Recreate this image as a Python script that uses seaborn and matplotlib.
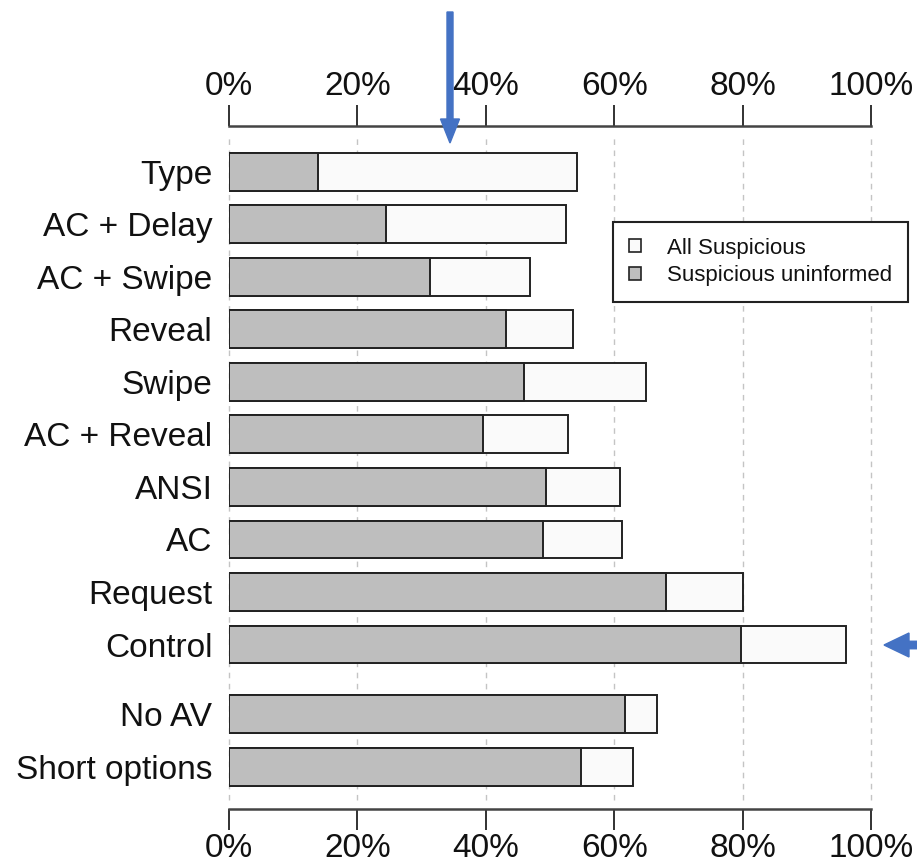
import pandas as pd
import seaborn as sns
import matplotlib.pyplot as plt
from matplotlib.patches import Patch, FancyArrow

# Conditions, top to bottom; last two sit after a small gap
conditions = ['Type', 'AC + Delay', 'AC + Swipe', 'Reveal', 'Swipe', 'AC + Reveal',
              'ANSI', 'AC', 'Request', 'Control', 'No AV', 'Short options']
positions = [0, 1, 2, 3, 4, 5, 6, 7, 8, 9, 10.33, 11.33]
all_suspicious = [54.2, 52.5, 46.9, 53.6, 65.0, 52.8, 60.9, 61.2, 80.1, 96.1, 66.7, 62.9]
suspicious_uninformed = [13.9, 24.5, 31.3, 43.1, 46.0, 39.6, 49.4, 48.9, 68.1, 79.8, 61.7, 54.8]
ticks = [0, 20, 40, 60, 80, 100]

df = pd.DataFrame({'condition': conditions, 'pos': positions,
                   'all': all_suspicious, 'uninformed': suspicious_uninformed})

sns.set_style('white')
plt.rcParams['font.family'] = ['Liberation Sans', 'DejaVu Sans']
plt.rcParams['text.color'] = '#111111'
plt.rcParams['xtick.labelcolor'] = '#111111'
plt.rcParams['ytick.labelcolor'] = '#111111'

fig = plt.figure(figsize=(9.17, 8.65), dpi=100)
ax = fig.add_axes([229 / 917, 1 - 800 / 865, (871 - 229) / 917, (800 - 135) / 865])

for t in ticks:
    ax.axvline(t, color='#c4c4c4', lw=1, ls=(0, (4, 4)), zorder=0, clip_on=False)

edge = '#222222'
sns.barplot(data=df, x='all', y='pos', orient='y', native_scale=True, width=0.72,
            color='#fafafa', saturation=1, edgecolor=edge, linewidth=1.4, ax=ax, zorder=2)
sns.barplot(data=df, x='uninformed', y='pos', orient='y', native_scale=True, width=0.72,
            color='#bebebe', saturation=1, edgecolor=edge, linewidth=1.4, ax=ax, zorder=3)

ax.set_xlim(0, 100)
ax.set_ylim(11.96, -0.70)
ax.set_yticks(positions)
ax.set_yticklabels(conditions)
ax.set_xticks(ticks)
ax.set_xticklabels([f'{t}%' for t in ticks])
ax.set_xlabel('')
ax.set_ylabel('')

ax.tick_params(axis='y', length=0, pad=12, labelsize=24)
ax.tick_params(axis='x', top=True, bottom=True, labeltop=True, labelbottom=True,
               direction='out', length=15, width=1.3, color='#222222', pad=2,
               labelsize=24)
for side in ['left', 'right']:
    ax.spines[side].set_visible(False)
for side in ['top', 'bottom']:
    ax.spines[side].set_visible(True)
    ax.spines[side].set_position(('outward', 6.5))
    ax.spines[side].set_bounds(0, 100)
    ax.spines[side].set_color('#444444')
    ax.spines[side].set_linewidth(1.8)

handles = [Patch(facecolor='#fafafa', edgecolor=edge, lw=1.2, label='All Suspicious'),
           Patch(facecolor='#bebebe', edgecolor=edge, lw=1.2, label='Suspicious uninformed')]
leg = ax.legend(handles=handles, loc='upper left', bbox_to_anchor=(613 / 917, 1 - 222 / 865),
                bbox_transform=fig.transFigure, borderaxespad=0, fontsize=16,
                fancybox=False, handlelength=0.55, handleheight=0.55, handletextpad=1.2,
                labelspacing=0.3, borderpad=0.7, framealpha=1, edgecolor='#222222')
leg.get_frame().set_linewidth(1.5)

# blue pointer arrows drawn over the figure
blue = '#4472c4'
fig.add_artist(FancyArrow(4.50, 8.53, 0, -1.31, width=0.06, head_width=0.19,
                          head_length=0.24, length_includes_head=True,
                          color=blue, transform=fig.dpi_scale_trans))
fig.add_artist(FancyArrow(9.40, 2.20, -0.56, 0, width=0.075, head_width=0.24,
                          head_length=0.25, length_includes_head=True,
                          color=blue, transform=fig.dpi_scale_trans))

fig.savefig('out.png', dpi=100)
